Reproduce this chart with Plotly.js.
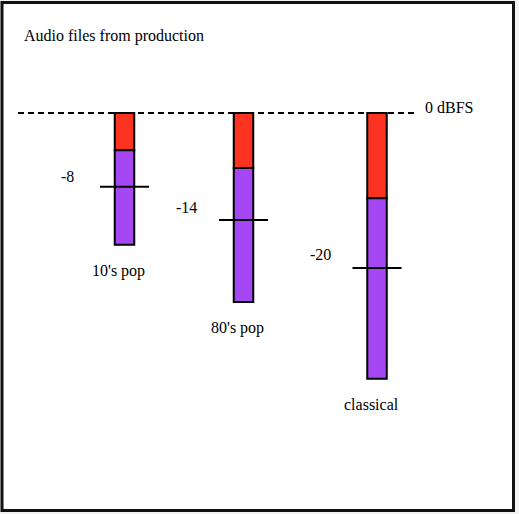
<!DOCTYPE html>
<html>
<head>
<meta charset="utf-8">
<script src="https://cdn.plot.ly/plotly-3.0.1.min.js"></script>
<style>html,body{margin:0;padding:0;background:#fff;}#chart{width:519px;height:514px;}</style>
</head>
<body>
<div id="chart"></div>
<script>
// Diagram data (depth below 0 dBFS, in diagram units)
const categories = ["10's pop", "80's pop", "classical"];
const loudnessLabels = ["-8", "-14", "-20"];
const headroomEnd = [-4.8, -7.1, -11.0];   // end of red (peak) segment
const bottomEnd = [-17.0, -24.4, -34.3];   // bottom of purple segment
const loudnessMark = [-9.5, -13.8, -20.0]; // horizontal loudness marker
const referenceLevel = 0;                  // 0 dBFS

// Layout placement (not data)
const xCenter = [124.5, 243.5, 377];
const barWidth = 19.5;
const markHalf = 24.5;

const font = {family: "Liberation Serif", size: 16, color: "#000"};

const redTrace = {
  type: "bar", x: xCenter, y: headroomEnd, base: xCenter.map(() => referenceLevel),
  width: barWidth, marker: {color: "#fb3320", line: {color: "#000", width: 2}},
  hoverinfo: "skip", showlegend: false
};
const purpleTrace = {
  type: "bar", x: xCenter, y: bottomEnd.map((b, i) => b - headroomEnd[i]), base: headroomEnd,
  width: barWidth, marker: {color: "#a548f4", line: {color: "#000", width: 2}},
  hoverinfo: "skip", showlegend: false
};
const mx = [], my = [];
loudnessMark.forEach((m, i) => { mx.push(xCenter[i] - markHalf, xCenter[i] + markHalf, null); my.push(m, m, null); });
const markTrace = {type: "scatter", mode: "lines", x: mx, y: my, line: {color: "#000", width: 2}, hoverinfo: "skip", showlegend: false};

const annotations = [
  {xref: "paper", yref: "paper", x: 22 / 519, y: 1 - 36 / 514, xanchor: "left", yanchor: "middle", text: "Audio files from production", showarrow: false, font: font},
  {xref: "x", yref: "y", x: 423, y: referenceLevel, xanchor: "left", yanchor: "middle", yshift: 6, text: "0 dBFS", showarrow: false, font: font}
];
categories.forEach((c, i) => {
  annotations.push({xref: "x", yref: "y", x: xCenter[i], y: bottomEnd[i], xshift: -6, yshift: -26, xanchor: "center", yanchor: "middle", text: c, showarrow: false, font: font});
  annotations.push({xref: "x", yref: "y", x: xCenter[i], y: loudnessMark[i], xshift: -57, yshift: 10 + i * 2, xanchor: "center", yanchor: "middle", text: loudnessLabels[i], showarrow: false, font: font});
});

const layout = {
  width: 519, height: 514, autosize: false,
  margin: {l: 0, r: 0, t: 0, b: 0, pad: 0},
  paper_bgcolor: "#f2f2f2", plot_bgcolor: "rgba(0,0,0,0)",
  barmode: "overlay",
  xaxis: {range: [0, 519], visible: false, fixedrange: true},
  yaxis: {range: [-51.74, 14.58], visible: false, fixedrange: true},
  shapes: [
    {type: "rect", xref: "paper", yref: "paper", x0: 2 / 519, x1: 513.5 / 519, y0: 1 - 510.5 / 514, y1: 1 - 2.5 / 514, line: {color: "#111", width: 3}, fillcolor: "#fff", layer: "below"},
    {type: "line", xref: "x", yref: "y", x0: 18, x1: 415, y0: referenceLevel, y1: referenceLevel, line: {color: "#000", width: 2, dash: "6px,4px"}, layer: "below"}
  ],
  annotations: annotations,
  font: font
};

Plotly.newPlot("chart", [redTrace, purpleTrace, markTrace], layout, {displayModeBar: false, staticPlot: true});
</script>
</body>
</html>
